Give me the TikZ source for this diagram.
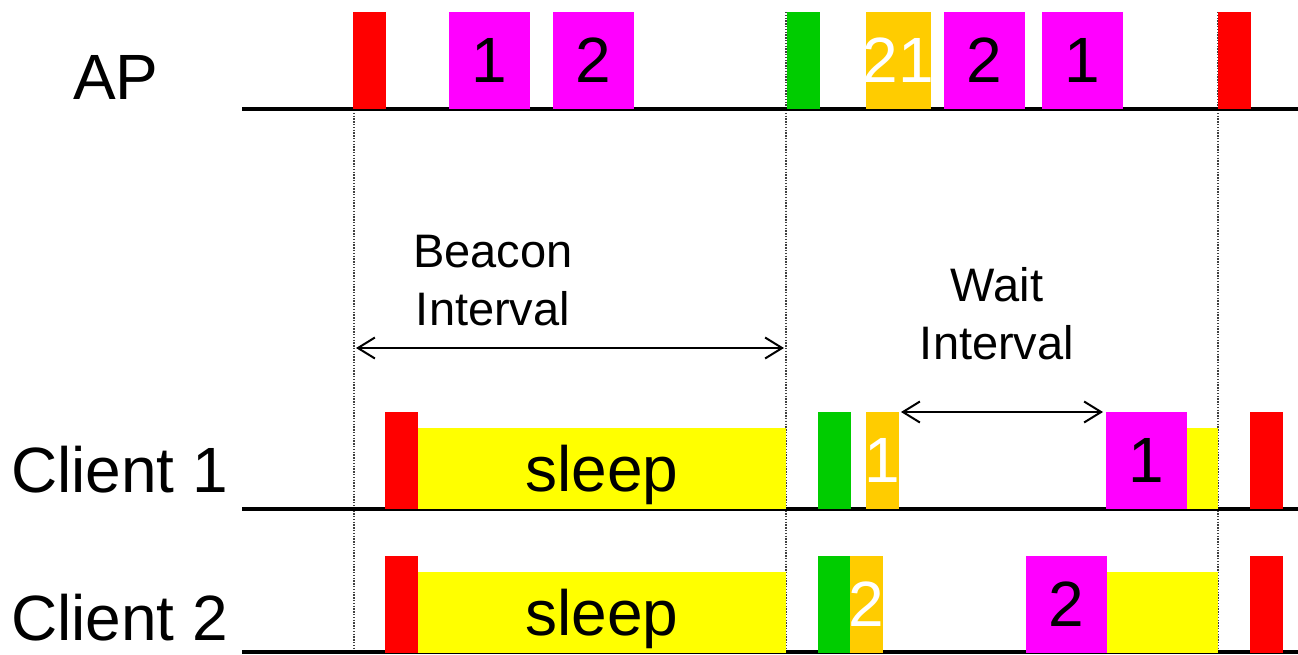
\documentclass[tikz,border=0pt]{standalone}
\usepackage{fontspec}
\setmainfont{Liberation Sans}
\usetikzlibrary{arrows.meta}
\definecolor{bcn}{RGB}{255,0,0}
\definecolor{tim}{RGB}{0,204,0}
\definecolor{pol}{RGB}{255,204,0}
\definecolor{dat}{RGB}{255,0,255}
\definecolor{dozy}{RGB}{255,255,0}
\newcommand{\slim}[1]{\makebox[0pt]{#1}}

\begin{document}
\begin{tikzpicture}[x=1pt,y=-1pt,
  pkt/.style={inner sep=0pt,outer sep=0pt,anchor=south west,
    minimum width=33pt,minimum height=96.5pt,font=\fontsize{64}{64}\selectfont},
  wide/.style={minimum width=81pt},
  doze/.style={fill=dozy,minimum height=80.5pt,text depth=0pt},
  lane/.style={line width=4pt},
  guide/.style={line width=1.2pt,black!75,dash pattern=on 1.4pt off 1.4pt},
  span/.style={line width=2pt,
    {Straight Barb[length=17pt,width=21pt]}-{Straight Barb[length=17pt,width=21pt]}},
  who/.style={inner sep=0pt,anchor=base west,font=\fontsize{64}{64}\selectfont},
  note/.style={inner sep=0pt,align=center,font=\fontsize{47}{58}\selectfont}]
  \useasboundingbox (0,0) rectangle (1298,654);

  % beacon boundaries
  \foreach \gx in {354,786,1218}
    \draw[guide] (\gx,12) -- (\gx,654);

  % time axes
  \draw[lane] (242,108.5) -- (1298,108.5);
  \draw[lane] (242,508.5) -- (1298,508.5);
  \draw[lane] (242,652) -- (1298,652);

  \node[who] (ap) at (73,99) {AP};
  \node[who] (cOne) at (11,492) {Client 1};
  \node[who] (cTwo) at (11,640) {Client 2};

  % access point
  \node[pkt,fill=bcn] (apB1) at (353,108.5) {};
  \node[pkt,wide,fill=dat] (apD1) at (449,108.5) {1};
  \node[pkt,wide,fill=dat] (apD2) at (553,108.5) {2};
  \node[pkt,fill=tim] (apT) at (787,108.5) {};
  \node[pkt,fill=pol,minimum width=65pt,text=white] (apP) at (866,108.5) {\slim{21}};
  \node[pkt,wide,fill=dat] (apD3) at (944,108.5) {2};
  \node[pkt,wide,fill=dat] (apD4) at (1042,108.5) {1};
  \node[pkt,fill=bcn] (apB2) at (1218,108.5) {};

  % client 1
  \node[pkt,fill=bcn] (c1B1) at (385,508.5) {};
  \node[pkt,doze,minimum width=368pt] (c1S1) at (418,508.5) {sleep};
  \node[pkt,fill=tim] (c1T) at (818,508.5) {};
  \node[pkt,fill=pol,text=white] (c1P) at (866,508.5) {\slim{1}};
  \node[pkt,wide,fill=dat] (c1D) at (1106,508.5) {1};
  \node[pkt,doze,minimum width=31pt] (c1S2) at (1187,508.5) {};
  \node[pkt,fill=bcn] (c1B2) at (1250,508.5) {};

  % client 2
  \node[pkt,fill=bcn] (c2B1) at (385,652.5) {};
  \node[pkt,doze,minimum width=368pt] (c2S1) at (418,652.5) {sleep};
  \node[pkt,fill=tim] (c2T) at (818,652.5) {};
  \node[pkt,fill=pol,text=white] (c2P) at (850,652.5) {\slim{2}};
  \node[pkt,wide,fill=dat] (c2D) at (1026,652.5) {2};
  \node[pkt,doze,minimum width=111pt] (c2S2) at (1107,652.5) {};
  \node[pkt,fill=bcn] (c2B2) at (1250,652.5) {};

  % intervals
  \coordinate (biL) at (356,348);
  \coordinate (biR) at (784,348);
  \draw[span] (biL) -- (biR);
  \node[note] (bi) at (493,281) {Beacon\\Interval};
  \draw[span,shorten <=2pt,shorten >=3pt] (c1P.north east) -- (c1D.north west);
  \node[note] (wi) at (997,314) {Wait\\Interval};
\end{tikzpicture}
\end{document}
